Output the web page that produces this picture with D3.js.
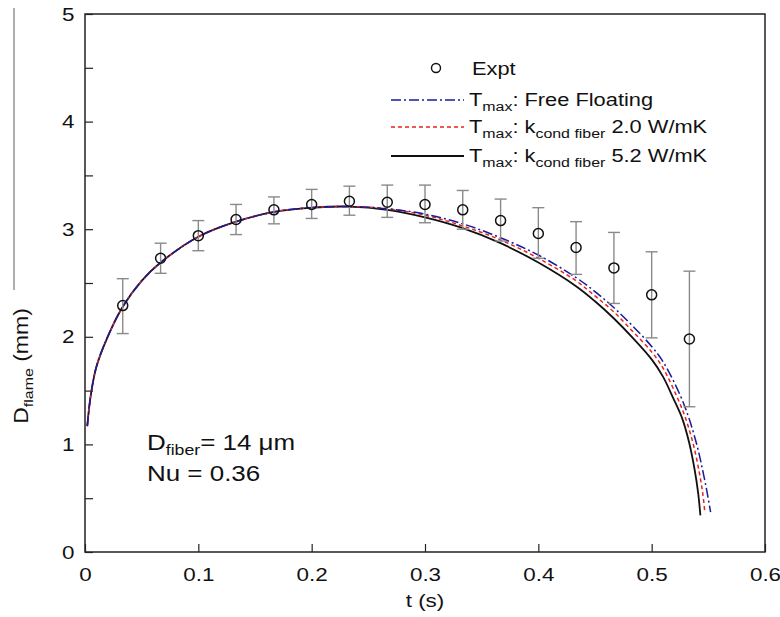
<!DOCTYPE html>
<head>
    <script src="https://d3js.org/d3.v7.min.js"></script>
    <style>
        body { margin: 0; background: #fff; }
        text { font-family: "Liberation Sans", Arial, sans-serif; fill: #111; }
    </style>
</head>
<body>
    <svg></svg>
</body>

<script>
    // Experimental points (t in s, D in mm) with error bar ends
    var exptT = [0.0333, 0.0667, 0.1, 0.1333, 0.1667, 0.2, 0.2333, 0.2667, 0.3, 0.3333, 0.3667, 0.4, 0.4333, 0.4667, 0.5, 0.5333];
    var exptD = [2.29, 2.73, 2.94, 3.09, 3.18, 3.23, 3.26, 3.25, 3.23, 3.18, 3.08, 2.96, 2.83, 2.64, 2.39, 1.98];
    var exptHi = [2.54, 2.87, 3.08, 3.23, 3.30, 3.37, 3.40, 3.41, 3.41, 3.36, 3.28, 3.20, 3.07, 2.97, 2.79, 2.61];
    var exptLo = [2.03, 2.59, 2.80, 2.95, 3.05, 3.10, 3.13, 3.11, 3.06, 3.00, 2.89, 2.73, 2.58, 2.31, 1.99, 1.35];

    // Model curves
    var tFree = [0.002, 0.005, 0.01, 0.02, 0.0333, 0.05, 0.0667, 0.1, 0.1333, 0.1667, 0.2, 0.2333, 0.2667, 0.3, 0.3333, 0.3667, 0.4, 0.4333, 0.45, 0.4667, 0.4833, 0.5, 0.51, 0.525, 0.533, 0.54, 0.545, 0.549, 0.552];
    var dFree = [1.17, 1.45, 1.72, 2.0, 2.28, 2.52, 2.69, 2.93, 3.07, 3.16, 3.20, 3.21, 3.19, 3.14, 3.05, 2.92, 2.76, 2.55, 2.42, 2.27, 2.10, 1.91, 1.77, 1.46, 1.24, 0.99, 0.76, 0.55, 0.37];

    var tK20 = [0.002, 0.005, 0.01, 0.02, 0.0333, 0.05, 0.0667, 0.1, 0.1333, 0.1667, 0.2, 0.2333, 0.2667, 0.3, 0.3333, 0.3667, 0.4, 0.4333, 0.45, 0.4667, 0.4833, 0.5, 0.51, 0.522, 0.53, 0.537, 0.542, 0.545, 0.547];
    var dK20 = [1.17, 1.45, 1.72, 2.0, 2.28, 2.52, 2.69, 2.93, 3.07, 3.16, 3.20, 3.21, 3.19, 3.13, 3.03, 2.90, 2.73, 2.52, 2.38, 2.23, 2.05, 1.86, 1.71, 1.45, 1.24, 0.99, 0.74, 0.55, 0.36];

    var tK52 = [0.002, 0.005, 0.01, 0.02, 0.0333, 0.05, 0.0667, 0.1, 0.1333, 0.1667, 0.2, 0.2333, 0.2667, 0.3, 0.3333, 0.3667, 0.4, 0.4333, 0.45, 0.4667, 0.4833, 0.5, 0.51, 0.519, 0.527, 0.533, 0.538, 0.541, 0.543];
    var dK52 = [1.17, 1.45, 1.72, 2.0, 2.28, 2.52, 2.69, 2.93, 3.07, 3.16, 3.20, 3.21, 3.18, 3.11, 3.01, 2.87, 2.69, 2.47, 2.33, 2.17, 1.99, 1.79, 1.63, 1.43, 1.24, 1.02, 0.76, 0.55, 0.34];

    var xTicks = [0, 0.1, 0.2, 0.3, 0.4, 0.5, 0.6];
    var yTicks = [0, 0.5, 1, 1.5, 2, 2.5, 3, 3.5, 4, 4.5, 5];

    var width = 780, height = 617;
    var plotL = 85, plotR = 765, plotT = 14, plotB = 552;
    var stretch = 1.18; // the original lettering is a bit wide

    var svg = d3.select('svg').attr('width', width).attr('height', height);

    var x = d3.scaleLinear().domain([0, 0.6]).range([plotL, plotR]);
    var y = d3.scaleLinear().domain([0, 5]).range([plotB, plotT]);

    // frame
    svg.append('rect')
        .attr('x', plotL).attr('y', plotT)
        .attr('width', plotR - plotL).attr('height', plotB - plotT)
        .attr('fill', 'none').attr('stroke', '#222').attr('stroke-width', 1.5);

    // x axis (ticks inward)
    var xAxis = svg.append('g')
        .attr('transform', 'translate(0,' + plotB + ')')
        .call(d3.axisBottom(x).tickValues(xTicks).tickSizeInner(-8).tickSizeOuter(0).tickPadding(16)
            .tickFormat(function (d) { return d === 0 ? '0' : d3.format('.1f')(d); }));
    xAxis.select('.domain').remove();
    xAxis.selectAll('line').attr('stroke', '#222').attr('stroke-width', 1.2);
    xAxis.selectAll('text').style('font-size', '19px').attr('font-family', 'Liberation Sans, Arial, sans-serif')
        .attr('transform', 'scale(' + stretch + ',1)');

    // y axis (minor ticks every 0.5)
    var yAxis = svg.append('g')
        .attr('transform', 'translate(' + plotL + ',0)')
        .call(d3.axisLeft(y).tickValues(yTicks).tickSizeInner(-8).tickSizeOuter(0).tickPadding(9)
            .tickFormat(function (d) { return Number.isInteger(d) ? d : ''; }));
    yAxis.select('.domain').remove();
    yAxis.selectAll('line').attr('stroke', '#222').attr('stroke-width', 1.2);
    yAxis.selectAll('text').style('font-size', '19px').attr('font-family', 'Liberation Sans, Arial, sans-serif')
        .attr('transform', 'scale(' + stretch + ',1)');

    function label(px, py, size) {
        return svg.append('text')
            .attr('transform', 'translate(' + px + ',' + py + ') scale(' + stretch + ',1)')
            .style('font-size', size + 'px');
    }

    // axis titles
    label((plotL + plotR) / 2, 607, 19).attr('text-anchor', 'middle').text('t (s)');

    var yl = svg.append('text')
        .attr('transform', 'translate(28,366) rotate(-90) scale(' + stretch + ',1)')
        .attr('text-anchor', 'middle').style('font-size', '19.5px');
    yl.append('tspan').text('D');
    yl.append('tspan').attr('dy', 5).style('font-size', '13.5px').text('flame');
    yl.append('tspan').attr('dy', -5).text(' (mm)');
    svg.append('line')
        .attr('x1', 14).attr('x2', 14).attr('y1', 8).attr('y2', 290)
        .attr('stroke', '#777').attr('stroke-width', 1.2);

    // curves
    var line = d3.line()
        .x(function (d) { return x(d[0]); })
        .y(function (d) { return y(d[1]); })
        .curve(d3.curveCatmullRom.alpha(0.5));

    var series = [
        { t: tK52, d: dK52, color: '#111', dash: null, w: 1.8 },
        { t: tK20, d: dK20, color: '#e8231b', dash: '4,3', w: 1.5 },
        { t: tFree, d: dFree, color: '#1a1a9c', dash: '10,3,2,3', w: 1.5 }
    ];
    series.forEach(function (s) {
        svg.append('path')
            .datum(d3.zip(s.t, s.d))
            .attr('d', line)
            .attr('fill', 'none')
            .attr('stroke', s.color)
            .attr('stroke-width', s.w)
            .attr('stroke-dasharray', s.dash);
    });

    // error bars
    var expt = exptT.map(function (t, i) { return { t: t, d: exptD[i], hi: exptHi[i], lo: exptLo[i] }; });
    var eb = svg.append('g').attr('stroke', '#8a8a8a').attr('stroke-width', 1.4);
    expt.forEach(function (p) {
        eb.append('line').attr('x1', x(p.t)).attr('x2', x(p.t)).attr('y1', y(p.hi)).attr('y2', y(p.lo));
        eb.append('line').attr('x1', x(p.t) - 6).attr('x2', x(p.t) + 6).attr('y1', y(p.hi)).attr('y2', y(p.hi));
        eb.append('line').attr('x1', x(p.t) - 6).attr('x2', x(p.t) + 6).attr('y1', y(p.lo)).attr('y2', y(p.lo));
    });
    svg.append('g').selectAll('circle')
        .data(expt)
        .enter().append('circle')
        .attr('cx', function (d) { return x(d.t); })
        .attr('cy', function (d) { return y(d.d); })
        .attr('r', 5)
        .attr('fill', 'none')
        .attr('stroke', '#111')
        .attr('stroke-width', 1.5);

    // legend
    var lg = svg.append('g');
    lg.append('circle').attr('cx', 436).attr('cy', 68).attr('r', 4.5)
        .attr('fill', 'none').attr('stroke', '#111').attr('stroke-width', 1.4);
    label(472, 75, 18.5).text('Expt');

    var legRows = [
        { y: 100, color: '#1a1a9c', dash: '10,3,2,3', w: 1.5, sub: null, rest: ': Free Floating' },
        { y: 127, color: '#e8231b', dash: '4,3', w: 1.5, sub: 'cond fiber', rest: ' 2.0 W/mK' },
        { y: 156, color: '#111', dash: null, w: 1.8, sub: 'cond fiber', rest: ' 5.2 W/mK' }
    ];
    legRows.forEach(function (r) {
        lg.append('line').attr('x1', 391).attr('x2', 464).attr('y1', r.y).attr('y2', r.y)
            .attr('stroke', r.color).attr('stroke-width', r.w).attr('stroke-dasharray', r.dash);
        var t = label(469, r.y + 6, 18.5);
        t.append('tspan').text('T');
        t.append('tspan').attr('dy', 5).style('font-size', '13.5px').text('max');
        if (r.sub) {
            t.append('tspan').attr('dy', -5).text(': k');
            t.append('tspan').attr('dy', 5).style('font-size', '13.5px').text(r.sub);
            t.append('tspan').attr('dy', -5).text(r.rest);
        } else {
            t.append('tspan').attr('dy', -5).text(r.rest);
        }
    });

    // annotation
    var an = label(147, 450, 22);
    an.append('tspan').text('D');
    an.append('tspan').attr('dy', 5).style('font-size', '15px').text('fiber');
    an.append('tspan').attr('dy', -5).text('= 14 \u03bcm');
    label(147, 481, 22).text('Nu = 0.36');
</script>
